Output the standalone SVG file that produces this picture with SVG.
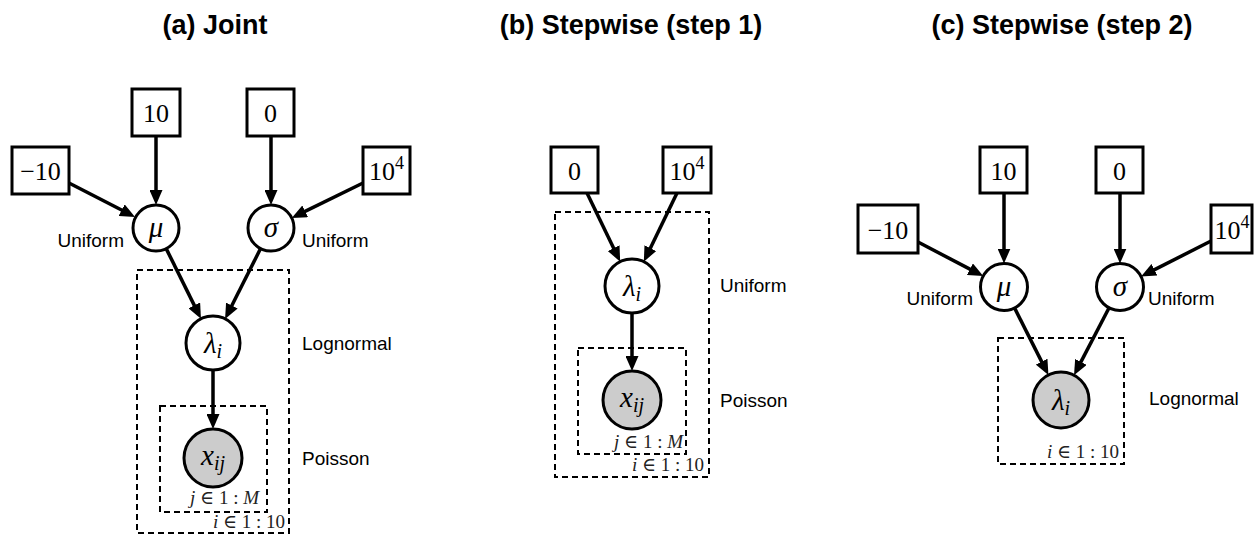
<svg xmlns="http://www.w3.org/2000/svg" width="1254" height="536" viewBox="0 0 1254 536">
<style>
.title{font-family:"Liberation Sans",Arial,sans-serif;font-weight:bold;font-size:27px;text-anchor:middle;fill:#000}
.dist{font-family:"Liberation Sans",Arial,sans-serif;font-size:19px;fill:#000}
.num{font-family:"Liberation Serif","DejaVu Serif",serif;font-size:26px;text-anchor:middle;fill:#000}
.var{font-family:"Liberation Serif","DejaVu Serif",serif;font-style:italic;font-size:29px;text-anchor:middle;fill:#000}
.plab{font-family:"Liberation Serif","DejaVu Serif",serif;font-size:19px;text-anchor:end;fill:#222}
.box{fill:#fff;stroke:#000;stroke-width:3}
.node{fill:#fff;stroke:#000;stroke-width:3}
.obs{fill:#cccccc;stroke:#000;stroke-width:3}
.plate{fill:none;stroke:#000;stroke-width:2;stroke-dasharray:6 4}
.edge{fill:none;stroke:#000;stroke-width:3.5;marker-end:url(#arr)}
.it{font-style:italic}
</style>
<defs>
<marker id="arr" viewBox="0 0 15 13" refX="7" refY="6.5" markerWidth="15" markerHeight="13" markerUnits="userSpaceOnUse" orient="auto">
<path d="M0,0 L15,6.5 L0,13 z" fill="#000"/>
</marker>
</defs>
<rect width="1254" height="536" fill="#fff"/>

<text class="title" x="215" y="34">(a) Joint</text>
<text class="title" x="631" y="34">(b) Stepwise (step 1)</text>
<text class="title" x="1062" y="34">(c) Stepwise (step 2)</text>

<!-- Plates -->
<g id="a-plate-i"><rect class="plate" x="137" y="270" width="152" height="263"/><text class="plab" x="285" y="528" xml:space="preserve"><tspan class="it">i</tspan> ∈ 1 : 10</text></g>
<g id="a-plate-j"><rect class="plate" x="160" y="406" width="107" height="106"/><text class="plab" x="259" y="504" xml:space="preserve"><tspan class="it">j</tspan> ∈ 1 : <tspan class="it">M</tspan></text></g>
<g id="b-plate-i"><rect class="plate" x="555" y="212" width="154" height="265"/><text class="plab" x="704" y="471" xml:space="preserve"><tspan class="it">i</tspan> ∈ 1 : 10</text></g>
<g id="b-plate-j"><rect class="plate" x="578" y="348" width="108" height="106"/><text class="plab" x="683" y="448" xml:space="preserve"><tspan class="it">j</tspan> ∈ 1 : <tspan class="it">M</tspan></text></g>
<g id="c-plate-i"><rect class="plate" x="998" y="338" width="126" height="126"/><text class="plab" x="1119" y="458" xml:space="preserve"><tspan class="it">i</tspan> ∈ 1 : 10</text></g>

<!-- Connectors -->
<g id="connectors">
<path class="edge" d="M69,183 L127.9,213.3"/>
<path class="edge" d="M156,136 L156,197"/>
<path class="edge" d="M271,136 L271,197"/>
<path class="edge" d="M363,183 L298.9,214.4"/>
<path class="edge" d="M166.2,248.6 L197.4,311.6"/>
<path class="edge" d="M260.6,248.5 L228.7,311.8"/>
<path class="edge" d="M213,370 L213,421"/>

<path class="edge" d="M587,193 L616.7,254.5"/>
<path class="edge" d="M677,193 L647.3,254.5"/>
<path class="edge" d="M632,313 L632,363"/>

<path class="edge" d="M918,242 L976.1,272.4"/>
<path class="edge" d="M1004,193 L1004,255.5"/>
<path class="edge" d="M1120,193 L1120,255.5"/>
<path class="edge" d="M1211,241 L1148.2,272.9"/>
<path class="edge" d="M1014.6,308 L1044.8,367.9"/>
<path class="edge" d="M1109.1,307.8 L1077.7,368.1"/>
</g>

<!-- Panel (a) nodes -->
<g id="a-m10"><rect class="box" x="12" y="147" width="57" height="47"/><text class="num" x="40.5" y="180">−10</text></g>
<g id="a-10"><rect class="box" x="132" y="89" width="48" height="47"/><text class="num" x="156" y="122">10</text></g>
<g id="a-0"><rect class="box" x="247" y="89" width="47" height="47"/><text class="num" x="270.5" y="122">0</text></g>
<g id="a-1e4"><rect class="box" x="363" y="147" width="47" height="47"/><text class="num" x="386.5" y="180">10<tspan font-size="18" dy="-11">4</tspan></text></g>
<g id="a-mu"><circle class="node" cx="156" cy="228" r="23"/><text class="var" x="156" y="237">μ</text><text class="dist" x="124" y="247" text-anchor="end">Uniform</text></g>
<g id="a-sigma"><circle class="node" cx="271" cy="228" r="23"/><text class="var" x="271" y="237">σ</text><text class="dist" x="302" y="247">Uniform</text></g>
<g id="a-lambda"><circle class="node" cx="213" cy="343" r="27"/><text class="var" x="213" y="353">λ<tspan font-size="20" dy="5">i</tspan></text><text class="dist" x="302" y="350">Lognormal</text></g>
<g id="a-x"><circle class="obs" cx="213" cy="458" r="29"/><text class="var" x="213" y="465">x<tspan font-size="20" dy="5">ij</tspan></text><text class="dist" x="302" y="465">Poisson</text></g>

<!-- Panel (b) nodes -->
<g id="b-0"><rect class="box" x="551" y="147" width="47" height="46"/><text class="num" x="574.5" y="180">0</text></g>
<g id="b-1e4"><rect class="box" x="663" y="147" width="48" height="46"/><text class="num" x="687" y="180">10<tspan font-size="18" dy="-11">4</tspan></text></g>
<g id="b-lambda"><circle class="node" cx="632" cy="286" r="27"/><text class="var" x="632" y="296">λ<tspan font-size="20" dy="5">i</tspan></text><text class="dist" x="720" y="292">Uniform</text></g>
<g id="b-x"><circle class="obs" cx="632" cy="400" r="29"/><text class="var" x="632" y="407">x<tspan font-size="20" dy="5">ij</tspan></text><text class="dist" x="720" y="407">Poisson</text></g>

<!-- Panel (c) nodes -->
<g id="c-m10"><rect class="box" x="858" y="205" width="60" height="48"/><text class="num" x="888" y="239">−10</text></g>
<g id="c-10"><rect class="box" x="980" y="147" width="47" height="46"/><text class="num" x="1003.5" y="180">10</text></g>
<g id="c-0"><rect class="box" x="1096" y="147" width="47" height="46"/><text class="num" x="1119.5" y="180">0</text></g>
<g id="c-1e4"><rect class="box" x="1211" y="205" width="41" height="48"/><text class="num" x="1232" y="239">10<tspan font-size="18" dy="-11">4</tspan></text></g>
<g id="c-mu"><circle class="node" cx="1004" cy="287" r="23.5"/><text class="var" x="1004" y="296">μ</text><text class="dist" x="973" y="305" text-anchor="end">Uniform</text></g>
<g id="c-sigma"><circle class="node" cx="1120" cy="287" r="23.5"/><text class="var" x="1120" y="296">σ</text><text class="dist" x="1148" y="305">Uniform</text></g>
<g id="c-lambda"><circle class="obs" cx="1061" cy="400" r="28"/><text class="var" x="1061" y="410">λ<tspan font-size="20" dy="5">i</tspan></text><text class="dist" x="1149" y="405">Lognormal</text></g>
</svg>
